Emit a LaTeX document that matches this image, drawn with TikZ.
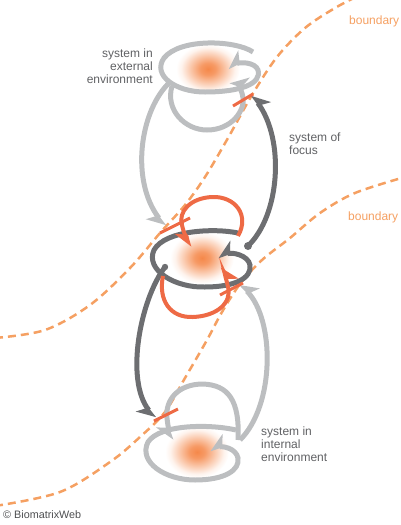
\documentclass[tikz,border=0pt]{standalone}
\usepackage{fontspec}
\setmainfont{Liberation Sans}
\usetikzlibrary{arrows.meta}
\definecolor{lgray}{HTML}{BCBEC0}
\definecolor{dgray}{HTML}{6D6E71}
\definecolor{orng}{HTML}{EE6A45}
\definecolor{bnd}{HTML}{F5A062}
\definecolor{blobc}{HTML}{F5884A}
\definecolor{txt}{HTML}{606164}
\pgfdeclareradialshading{blobsh}{\pgfpoint{0bp}{0bp}}{color(0bp)=(blobc); color(6bp)=(blobc!85!white); color(14bp)=(blobc!45!white); color(21bp)=(blobc!10!white); color(25bp)=(white); color(50bp)=(white)}
\tikzset{
  boundaryline/.style={bnd, line width=2.5pt, dash pattern=on 8pt off 5pt},
  loop/.style={line width=5pt},
  oloop/.style={orng, line width=4pt},
  tick/.style={orng, line width=3pt},
  hd/.style={-{Stealth[harpoon,swap,length=15pt,width=22pt,inset=4pt]}},
  lbl/.style={txt, inner sep=0pt, font=\fontsize{12}{13}\selectfont},
  blbl/.style={bnd, inner sep=0pt, font=\fontsize{12}{13}\selectfont},
}
\begin{document}
\begin{tikzpicture}[x=1pt,y=-1pt]
\useasboundingbox (0,0) rectangle (400,525);
\clip (0,0) rectangle (400,525);
% blobs
\shade[shading=blobsh] (208,69) ellipse [x radius=32, y radius=25];
\shade[shading=blobsh] (202,258) ellipse [x radius=32, y radius=26];
\shade[shading=blobsh] (197,452) ellipse [x radius=32, y radius=26];
% boundaries
\draw[boundaryline] plot[smooth, tension=0.55] coordinates {(-5,338) (45,330) (90,305) (130,268) (160,233) (185,205) (205,177) (228,138) (252,95) (277,57) (305,28) (335,8) (360,-5)};
\draw[boundaryline] plot[smooth, tension=0.55] coordinates {(-5,506) (60,492) (110,462) (140,437) (165,412) (185,378) (207,340) (222,312) (240,284) (262,260) (290,238) (320,213) (355,193) (405,177)};
% top system (external environment)
\draw[lgray, loop, hd] (253,52) .. controls (235,40) and (180,38) .. (164,58)
  .. controls (152,75) and (175,92) .. (205,92)
  .. controls (240,92) and (262,84) .. (258,70)
  .. controls (255,62) and (240,62) .. (228,68);
\draw[lgray, loop, hd] (172,86) .. controls (165,110) and (185,130) .. (207,130)
  .. controls (232,130) and (245,110) .. (243,98)
  .. controls (242,90) and (238,85) .. (230,82);
\draw[lgray, loop, hd] (170,82) .. controls (140,110) and (130,180) .. (165,226);
% bottom system (internal environment)
\draw[lgray, loop, hd] (236,430) .. controls (210,424) and (160,424) .. (148,442)
  .. controls (138,462) and (165,480) .. (195,480)
  .. controls (225,480) and (240,470) .. (238,458)
  .. controls (236,448) and (222,446) .. (210,450);
\draw[lgray, loop, hd] (238,440) .. controls (240,400) and (228,385) .. (203,384)
  .. controls (178,384) and (165,400) .. (167,418)
  .. controls (168,428) and (170,434) .. (172,440);
\draw[lgray, loop, hd] (240,440) .. controls (275,405) and (275,320) .. (240,284);
% system of focus
\draw[dgray, loop, hd] (238,233) .. controls (215,228) and (165,230) .. (154,250)
  .. controls (145,270) and (175,288) .. (205,287)
  .. controls (235,287) and (252,278) .. (250,265)
  .. controls (248,255) and (232,252) .. (218,257);
\draw[dgray, loop, hd] (248,246) .. controls (280,215) and (285,140) .. (252,95);
\fill[dgray] (248,246) circle [radius=4];
\draw[dgray, loop, hd] (165,267) .. controls (140,300) and (125,380) .. (155,418);
\fill[dgray] (165,267) circle [radius=3.2];
\draw[oloop, hd] (238,236) .. controls (250,215) and (235,196) .. (212,197)
  .. controls (190,198) and (178,212) .. (182,225)
  .. controls (184,235) and (188,240) .. (190,247);
\draw[oloop, hd] (163,276) .. controls (158,300) and (170,318) .. (193,317)
  .. controls (218,316) and (232,302) .. (228,287)
  .. controls (226,278) and (224,272) .. (222,267);
% boundary ticks
\draw[tick] (233,106) -- (253,94);
\draw[tick] (160,233) -- (190,218);
\draw[tick] (220,295) -- (243,283);
\draw[tick] (154,421) -- (178,409);
% labels
\node[lbl, anchor=base east] (e1) at (153,57) {system in};
\node[lbl, anchor=base east] (e2) at (153,70) {external};
\node[lbl, anchor=base east] (e3) at (153,83) {environment};
\node[lbl, anchor=base west] (f1) at (289,141) {system of};
\node[lbl, anchor=base west] (f2) at (289,154) {focus};
\node[lbl, anchor=base west] (i1) at (261,435) {system in};
\node[lbl, anchor=base west] (i2) at (261,448) {internal};
\node[lbl, anchor=base west] (i3) at (261,461) {environment};
\node[blbl, anchor=base west] (b1) at (349,24) {boundary};
\node[blbl, anchor=base west] (b2) at (348,220) {boundary};
\node[txt!80!black, inner sep=0pt, anchor=base west, font=\fontsize{10.8}{12}\selectfont] (cr) at (3,518) {\textcopyright\ BiomatrixWeb};
\end{tikzpicture}
\end{document}
